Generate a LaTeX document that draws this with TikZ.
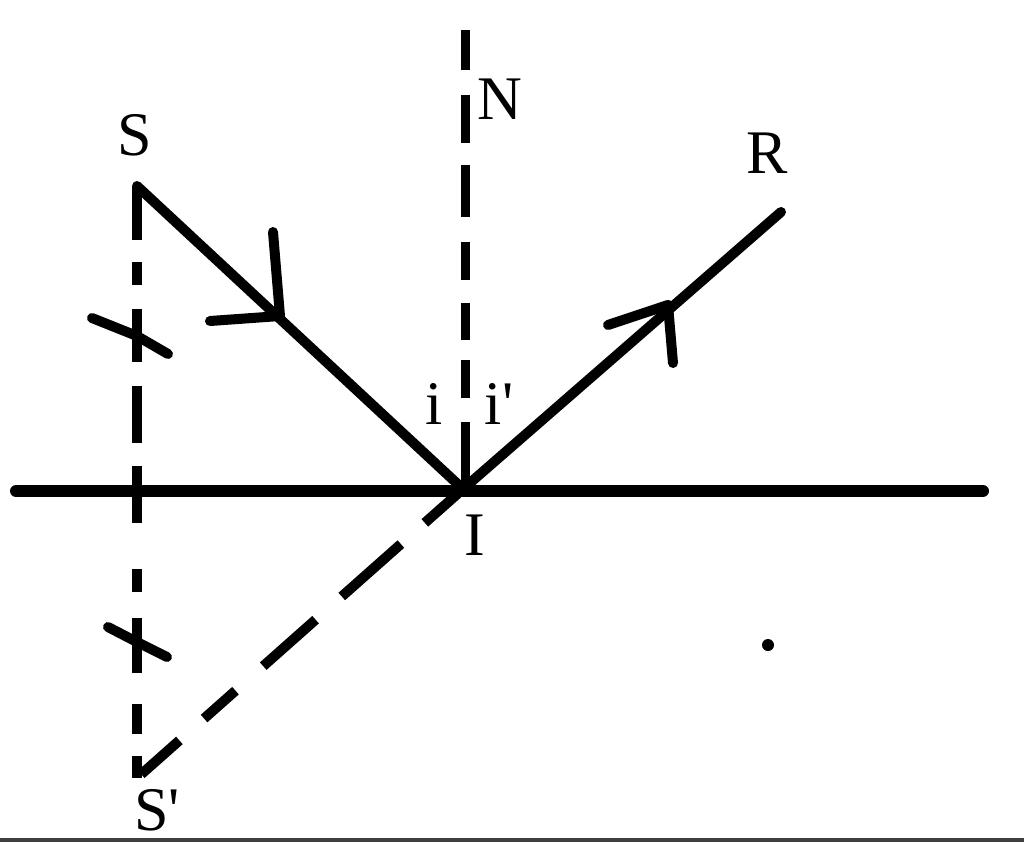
\documentclass[tikz,border=0pt]{standalone}
\usepackage{fontspec}
\setmainfont{Liberation Serif}[Ligatures=TeXOff]
\begin{document}
\begin{tikzpicture}[x=0.5pt,y=-0.5pt,
  ray/.style={line width=5pt,line cap=round,line join=round},
  mirror/.style={line width=6pt,line cap=round},
  dsh/.style={line width=5pt},
  tick/.style={line width=5pt,line cap=round},
  lab/.style={inner sep=0pt,font=\fontsize{31}{36}\selectfont}]
\useasboundingbox (0,0) rectangle (1024,842);
\fill[white] (0,0) rectangle (1024,842);
\fill[black!75] (0,838) rectangle (1024,842);
% points
\coordinate (S) at (137,186);
\coordinate (I) at (463,489);
\coordinate (R) at (781,212);
\coordinate (Sp) at (137,778);
\coordinate (Ntop) at (465,30);
\coordinate (ML) at (16,491);
\coordinate (MR) at (983,491);
% mirror
\draw[mirror] (ML) -- (MR);
% normal (dashed, drawn from I upwards)
\draw[line width=4.5pt,dash pattern=on 34.5pt off 12pt on 19pt off 10pt on 18.5pt off 11.5pt on 19pt off 12.5pt on 26pt off 11pt on 24pt off 12.5pt on 20pt off 20pt]
  (465,491) -- (Ntop);
% S to S' dashed
\draw[dsh,dash pattern=on 27pt off 11pt on 11.5pt off 12pt on 26.5pt off 12pt on 28.5pt off 11.5pt on 28.5pt off 23pt on 11.5pt off 13pt on 27.5pt off 15.5pt on 15pt off 11pt on 20pt off 20pt]
  (S) -- (Sp);
% I to S' dashed
\draw[dsh,dash pattern=on 25.5pt off 16pt on 39.5pt off 17.5pt on 35pt off 18.5pt on 21pt off 16.5pt on 25.5pt off 20pt]
  (I) -- (Sp);
% incident and reflected rays
\draw[ray] (S) -- (I);
\draw[ray] (I) -- (R);
% arrow marks
\coordinate (A1) at (280,316);
\coordinate (A2) at (668,305);
\draw[tick] (273,232) -- (A1);
\draw[tick] (210,321) -- (A1);
\draw[tick] (608,325) -- (A2);
\draw[tick] (673,363) -- (A2);
% equal-length ticks
\coordinate (T1) at (137,336);
\coordinate (T2) at (137,642);
\draw[tick] (92,318) -- (T1) -- (168,354);
\draw[tick] (108,627) -- (T2) -- (167,657);
% dot
\fill (768,645) circle (6);
% labels
\node[lab] (lS) at (135,135) {S};
\node[lab] (lR) at (767,153) {R};
\node[lab] (lN) at (500,99) {N};
\node[lab] (li) at (434,404) {i};
\node[lab] (lip) at (499,404) {i'};
\node[lab] (lI) at (475,535) {I};
\node[lab] (lSp) at (157,810) {S'};
\end{tikzpicture}
\end{document}
